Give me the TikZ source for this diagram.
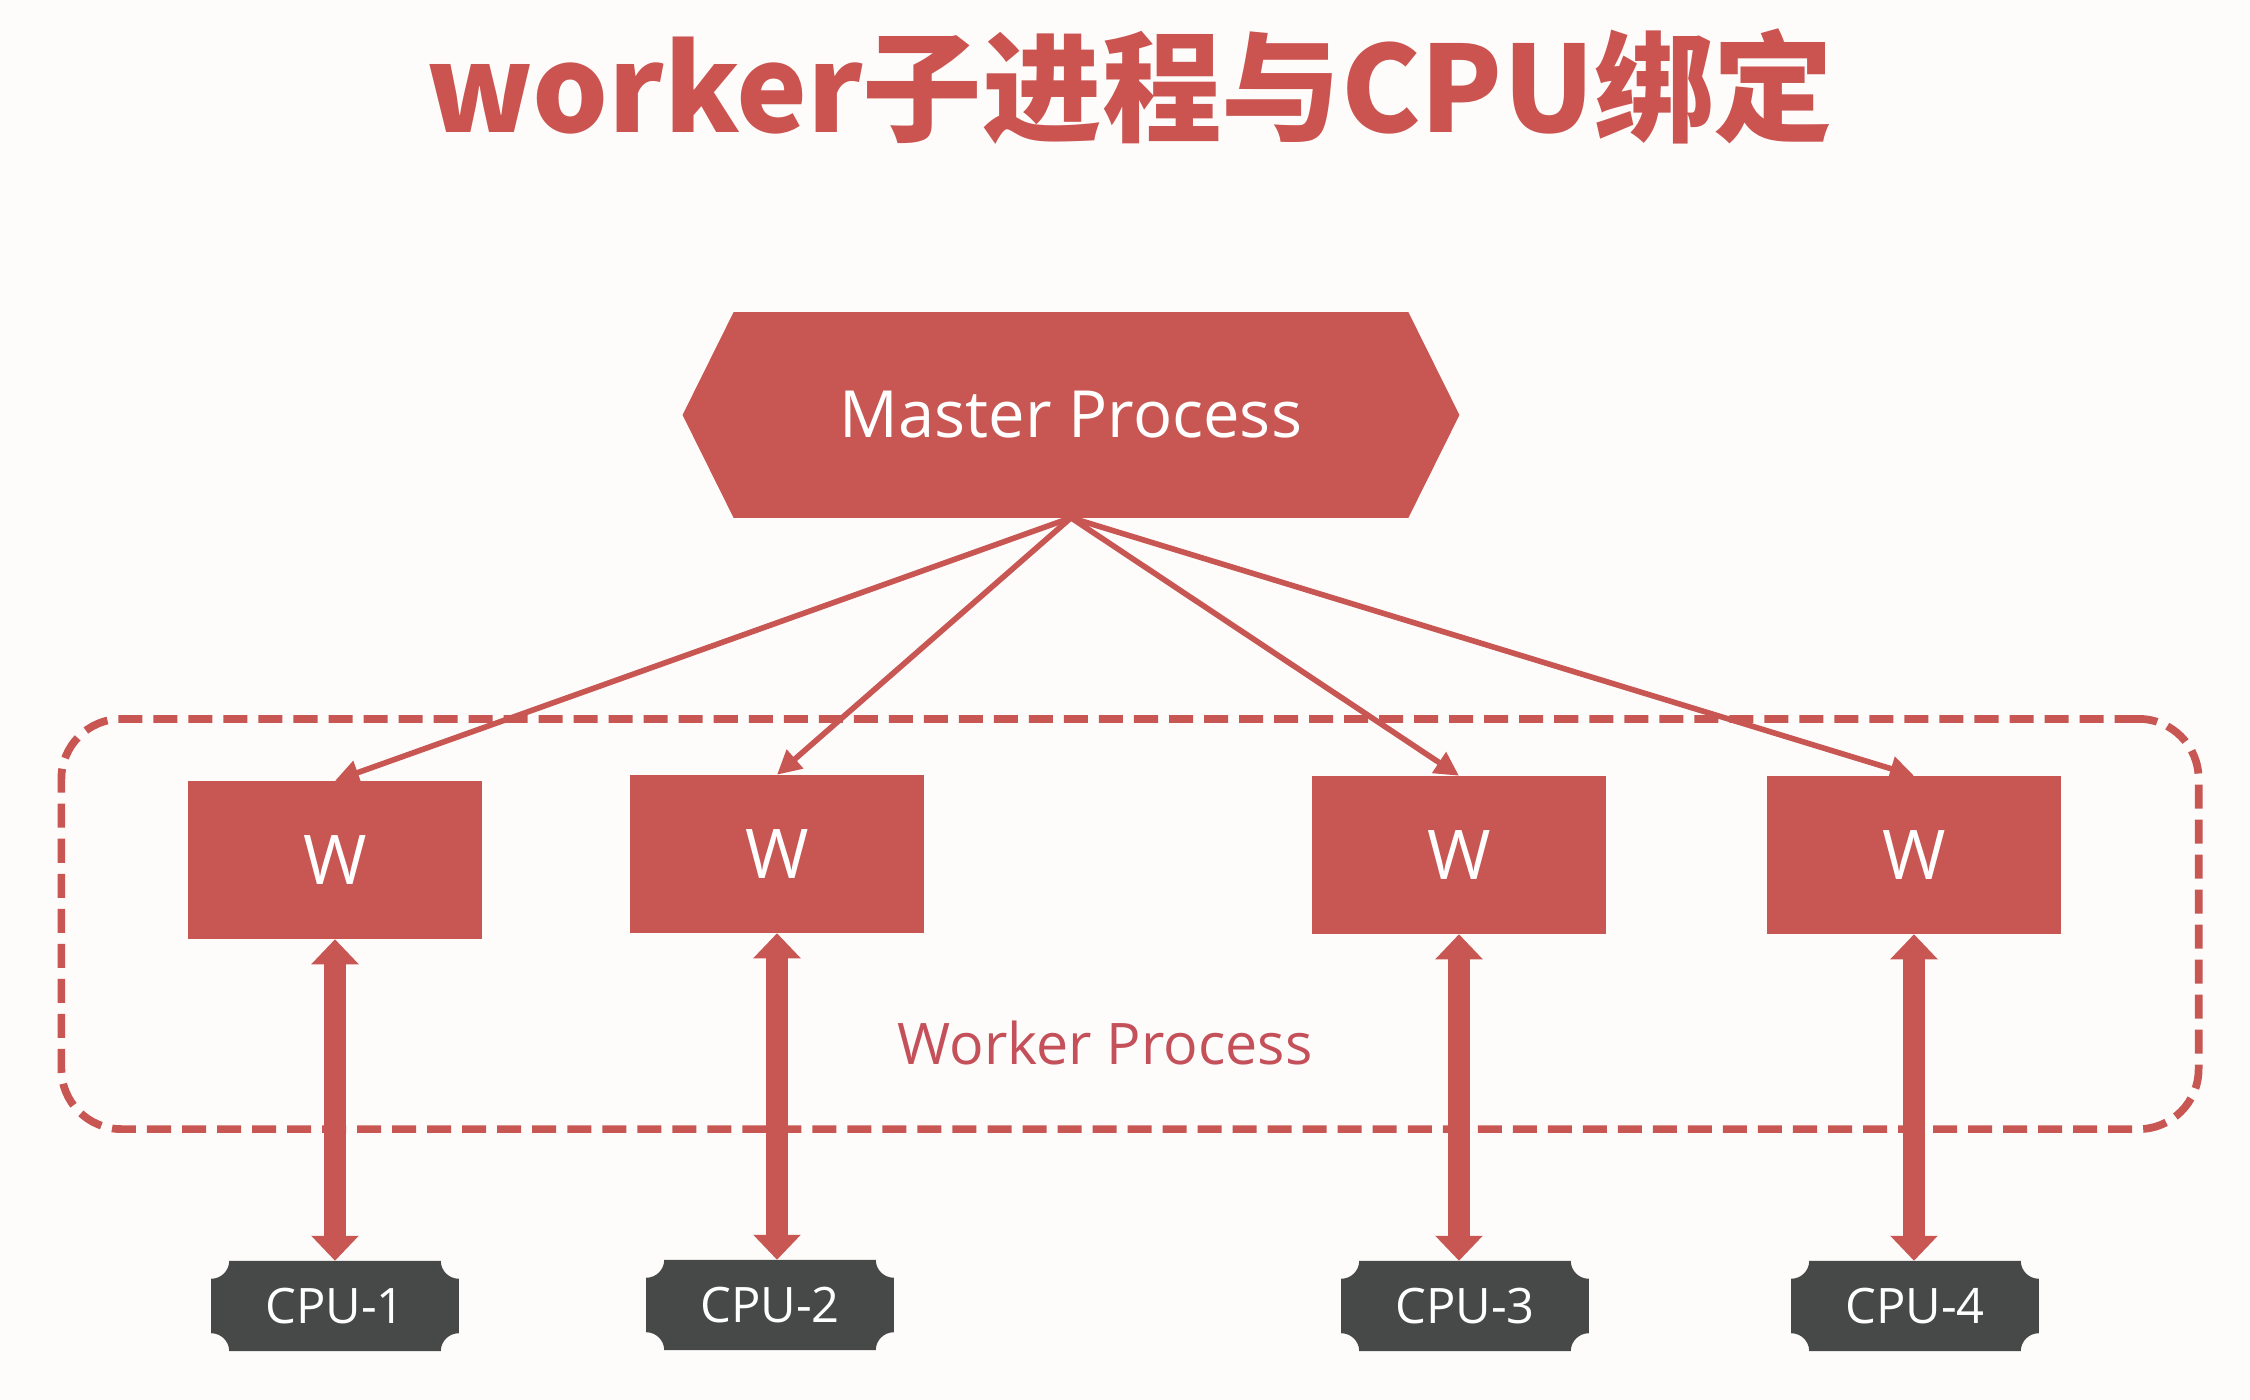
\documentclass[tikz,border=0pt]{standalone}
\usepackage{fontspec}
\setmainfont{Open Sans}
\newfontfamily\cjkfont{Noto Sans CJK SC}
\usetikzlibrary{arrows.meta,calc}
\definecolor{myred}{RGB}{200,87,83}
\definecolor{titlered}{RGB}{204,84,80}
\definecolor{cpugray}{RGB}{71,73,72}
\definecolor{wptext}{RGB}{196,80,90}
\definecolor{bgc}{RGB}{253,252,251}
\pgfdeclarelayer{bg}
\pgfsetlayers{bg,main}
\newcommand{\cpR}{18}
\newcommand{\cpK}{9.9}
\newcommand{\cpushape}[1]{%
  \fill[cpugray] ($(#1.north west)+(\cpR,0)$) -- ($(#1.north east)+(-\cpR,0)$)
    .. controls ($(#1.north east)+(-\cpR,\cpK)$) and ($(#1.north east)+(-\cpK,\cpR)$) .. ($(#1.north east)+(0,\cpR)$)
    -- ($(#1.south east)+(0,-\cpR)$)
    .. controls ($(#1.south east)+(-\cpK,-\cpR)$) and ($(#1.south east)+(-\cpR,-\cpK)$) .. ($(#1.south east)+(-\cpR,0)$)
    -- ($(#1.south west)+(\cpR,0)$)
    .. controls ($(#1.south west)+(\cpR,-\cpK)$) and ($(#1.south west)+(\cpK,-\cpR)$) .. ($(#1.south west)+(0,-\cpR)$)
    -- ($(#1.north west)+(0,\cpR)$)
    .. controls ($(#1.north west)+(\cpK,\cpR)$) and ($(#1.north west)+(\cpR,\cpK)$) .. cycle;}
\begin{document}
\begin{tikzpicture}[x=0.01cm,y=-0.01cm,
  wbox/.style={fill=myred, minimum width=2.94cm, minimum height=1.57cm, inner sep=0pt, text=white, font=\fontsize{19.5pt}{22pt}\selectfont},
  cpubox/.style={minimum width=2.46cm, minimum height=0.89cm, inner sep=0pt, text=white, font=\fontsize{13.9pt}{16pt}\selectfont},
  link/.style={myred, line width=1.6pt, -{Triangle[length=0.24cm,width=0.24cm]}},
  bind/.style={myred, line width=0.22cm, {Triangle[length=0.25cm,width=0.46cm]}-{Triangle[length=0.25cm,width=0.46cm]}},
  groupbox/.style={draw=myred, line width=2.2pt, dash pattern=on 0.24cm off 0.11cm, rounded corners=0.6cm, minimum width=21.36cm, minimum height=4.1cm, inner sep=0pt},
]
\useasboundingbox (0,0) rectangle (2250,1400);
\begin{pgfonlayer}{bg}
  \fill[bgc] (0,0) rectangle (2250,1400);
\end{pgfonlayer}

% title
\node[anchor=base, text=titlered, inner sep=0pt, font=\cjkfont\bfseries\fontsize{34pt}{40pt}\selectfont] (title) at (1130,133) {worker子进程与CPU绑定};

% master
\node[minimum width=7.75cm, minimum height=2.04cm, inner sep=0pt, text=white, font=\fontsize{18.5pt}{22pt}\selectfont] (master) at (1071,415) {Master Process};
\begin{pgfonlayer}{bg}
  \fill[myred] (master.west) -- ($(master.north west)+(51,0)$) -- ($(master.north east)+(-51,0)$) -- (master.east) -- ($(master.south east)+(-51,0)$) -- ($(master.south west)+(51,0)$) -- cycle;
\end{pgfonlayer}

% group
\node[groupbox] (group) at (1130,924) {};
\node[text=wptext, font=\fontsize{16.3pt}{19pt}\selectfont] (wplabel) at (1105,1043) {Worker Process};

% workers
\node[wbox] (w1) at (335,860) {W};
\node[wbox] (w2) at (777,854) {W};
\node[wbox] (w3) at (1459,855) {W};
\node[wbox] (w4) at (1914,855) {W};

% cpus
\node[cpubox] (c1) at (335,1306) {CPU-1};
\node[cpubox] (c2) at (770,1305) {CPU-2};
\node[cpubox] (c3) at (1465,1306) {CPU-3};
\node[cpubox] (c4) at (1915,1306) {CPU-4};
\begin{pgfonlayer}{bg}
  \cpushape{c1}\cpushape{c2}\cpushape{c3}\cpushape{c4}
\end{pgfonlayer}

% links
\draw[link] (master.south) -- (w1.north);
\draw[link] (master.south) -- (w2.north);
\draw[link] (master.south) -- (w3.north);
\draw[link] (master.south) -- (w4.north);

% bindings
\draw[bind] (w1.south) -- (w1.south |- c1.north);
\draw[bind] (w2.south) -- (w2.south |- c2.north);
\draw[bind] (w3.south) -- (w3.south |- c3.north);
\draw[bind] (w4.south) -- (w4.south |- c4.north);
\end{tikzpicture}
\end{document}
